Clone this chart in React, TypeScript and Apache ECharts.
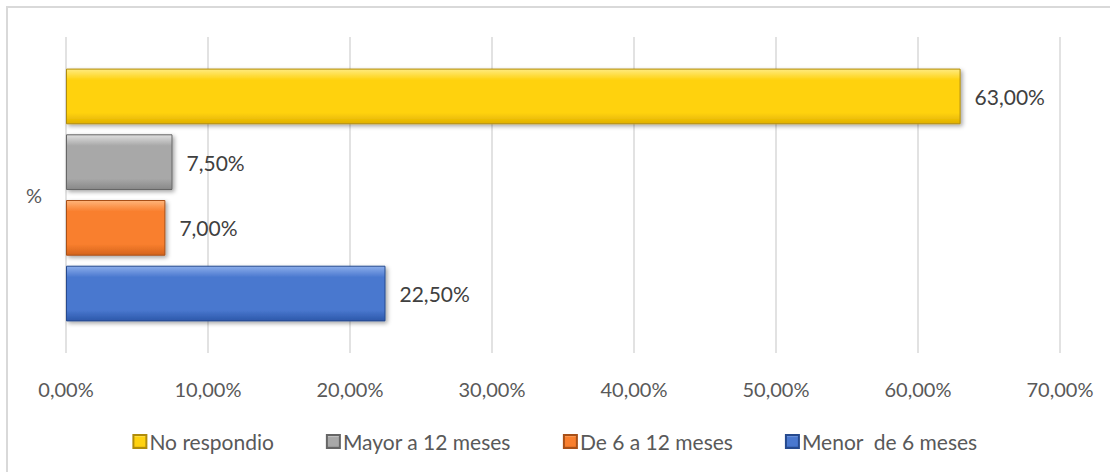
import React, { useEffect, useRef } from "react";
import * as echarts from "echarts";

const categories = ["%"];
const seriesNames = ["No respondio", "Mayor a 12 meses", "De 6 a 12 meses", "Menor  de 6 meses"];
const noRespondio = [63.0];
const mayor12 = [7.5];
const de6a12 = [7.0];
const menor = [22.5];

const palettes = [
  { top: "#FFEB80", mid: "#FFD20F", bot: "#E0B000", border: "#B08C0A" },
  { top: "#E0E0E0", mid: "#A8A8A8", bot: "#888888", border: "#666666" },
  { top: "#FFB57A", mid: "#F97F2E", bot: "#D4631B", border: "#A85018" },
  { top: "#8CAEEB", mid: "#4A78CF", bot: "#2D58AA", border: "#264A8E" },
];

const fmt = (v: number) => v.toFixed(2).replace(".", ",") + "%";

export default function App() {
  const ref = useRef<HTMLDivElement>(null);
  useEffect(() => {
    if (!ref.current) return;
    const chart = echarts.init(ref.current, undefined, { renderer: "svg" });
    const datas = [noRespondio, mayor12, de6a12, menor];
    const font = "Lato, 'Open Sans', sans-serif";
    chart.setOption({
      animation: false,
      textStyle: { fontFamily: font },
      grid: { left: 66, right: 50, top: 37, bottom: 119, containLabel: false },
      legend: {
        data: seriesNames,
        top: 426,
        left: "center",
        icon: "rect",
        itemWidth: 13,
        itemHeight: 13,
        itemGap: 52,
        textStyle: { fontSize: 21, color: "#595959", fontFamily: font, padding: [0, 0, 0, -2] },
      },
      xAxis: {
        type: "value",
        min: 0,
        max: 70,
        interval: 10,
        axisLine: { show: false },
        axisTick: { show: false },
        splitLine: { lineStyle: { color: "#D9D9D9", width: 1.5 } },
        axisLabel: {
          formatter: (v: number) => fmt(v),
          fontSize: 20,
          color: "#595959",
          margin: 26,
          fontFamily: font,
        },
      },
      yAxis: {
        type: "category",
        data: categories,
        axisLine: { show: false },
        axisTick: { show: false },
        axisLabel: { fontSize: 20, color: "#595959", margin: 24, fontFamily: font },
      },
      series: seriesNames.map((name, i) => ({
        name,
        type: "bar",
        data: datas[i],
        barGap: "18%",
        barCategoryGap: "20%",
        itemStyle: {
          color: new echarts.graphic.LinearGradient(0, 0, 0, 1, [
            { offset: 0, color: palettes[i].top },
            { offset: 0.2, color: palettes[i].mid },
            { offset: 0.8, color: palettes[i].mid },
            { offset: 1, color: palettes[i].bot },
          ]),
          borderColor: palettes[i].border,
          borderWidth: 1,
          shadowColor: "rgba(0,0,0,0.35)",
          shadowBlur: 4,
          shadowOffsetX: 2,
          shadowOffsetY: 2,
        },
        label: {
          show: true,
          position: "right",
          distance: 14,
          formatter: (p: any) => fmt(p.value),
          fontSize: 21,
          color: "#404040",
          fontFamily: font,
        },
      })),
      graphic: [
        { type: "line", shape: { x1: 6, y1: 7, x2: 1110, y2: 7 }, style: { stroke: "#D9D9D9", lineWidth: 2 } },
        { type: "line", shape: { x1: 7, y1: 6, x2: 7, y2: 472 }, style: { stroke: "#D9D9D9", lineWidth: 2 } },
      ],
    });
    return () => chart.dispose();
  }, []);
  return (
    <div
      ref={ref}
      style={{ position: "fixed", left: 0, top: 0, width: 1110, height: 472, background: "#fff" }}
    />
  );
}
